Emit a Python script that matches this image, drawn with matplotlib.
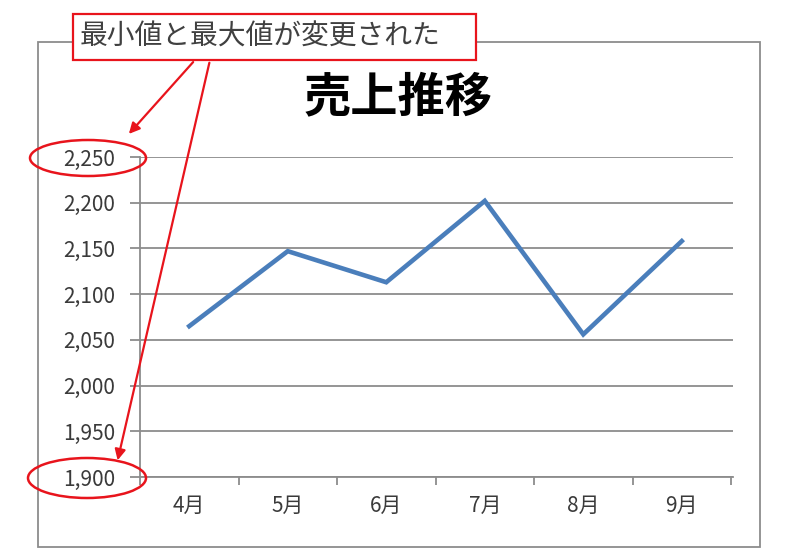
import matplotlib
matplotlib.use('Agg')
import matplotlib.pyplot as plt
from matplotlib.patches import Ellipse, FancyArrowPatch, Rectangle
from matplotlib.ticker import FuncFormatter, FixedLocator

plt.rcParams['font.family'] = ['Noto Sans CJK JP', 'DejaVu Sans']

# Data
months = ['4月', '5月', '6月', '7月', '8月', '9月']
sales = [2065, 2147, 2113, 2202, 2056, 2158]
y_ticks = [1900, 1950, 2000, 2050, 2100, 2150, 2200, 2250]
title = '売上推移'
note = '最小値と最大値が変更された'

W, H = 800, 560
GRAY = '#8c8c8c'
TEXT = '#3a3a3a'

fig = plt.figure(figsize=(W / 100, H / 100), dpi=100)

def fx(px):
    return px / W

def fy(py):
    return 1 - py / H

# Outer chart border
fig.add_artist(Rectangle((fx(38), fy(547)), fx(760) - fx(38), fy(42) - fy(547),
                         transform=fig.transFigure, fill=False,
                         edgecolor=GRAY, lw=1.3, zorder=0))

ax = fig.add_axes([fx(140), fy(477), fx(733) - fx(140), fy(157) - fy(477)])
x = list(range(len(months)))
ax.plot(x, sales, color='#4a7ebb', lw=3.3, solid_joinstyle='miter', zorder=3)

ax.set_ylim(y_ticks[0], y_ticks[-1])
ax.set_xlim(-0.5, len(months) - 0.5 + 0.02)
ax.set_yticks(y_ticks)
ax.yaxis.set_major_formatter(FuncFormatter(lambda v, p: f'{int(v):,}'))
ax.grid(axis='y', color=GRAY, lw=1.3)
ax.set_axisbelow(True)

ax.xaxis.set_major_locator(FixedLocator([i - 0.5 for i in range(len(months) + 1)]))
ax.xaxis.set_minor_locator(FixedLocator(x))
ax.set_xticklabels([])
ax.set_xticklabels(months, minor=True)
ax.tick_params(axis='x', which='major', length=6, color=GRAY, width=1.3)
ax.tick_params(axis='x', which='minor', length=0, pad=13, labelsize=15, labelcolor=TEXT)
ax.tick_params(axis='y', length=7, color=GRAY, width=1.3, labelsize=15,
               labelcolor=TEXT, pad=11)

for side in ['top', 'right']:
    ax.spines[side].set_visible(False)
for side in ['left', 'bottom']:
    ax.spines[side].set_color(GRAY)
    ax.spines[side].set_linewidth(1.3)

fig.text(fx(398), fy(97), title, ha='center', va='center',
         fontsize=34, fontweight='bold', color='black')

# Callout box
fig.add_artist(Rectangle((fx(73), fy(60)), fx(476) - fx(73), fy(14) - fy(60),
                         transform=fig.transFigure, facecolor='white',
                         edgecolor='#e8141c', lw=1.6, zorder=5))
fig.text(fx(80), fy(37), note, ha='left', va='center', fontsize=20,
         color='#404040', zorder=6)

# Arrows
for start, end in [((195, 60), (127, 136)), ((210, 60), (117, 463))]:
    fig.add_artist(FancyArrowPatch((fx(start[0]), fy(start[1])),
                                   (fx(end[0]), fy(end[1])),
                                   transform=fig.transFigure,
                                   arrowstyle='-|>', mutation_scale=16,
                                   color='#e8141c', lw=1.6, zorder=6))

# Ellipses around the changed labels
for cx, cy, w, h in [(88, 158, 116, 36), (87, 478, 118, 40)]:
    fig.add_artist(Ellipse((fx(cx), fy(cy)), w / W, h / H,
                           transform=fig.transFigure, fill=False,
                           edgecolor='#e8141c', lw=1.8, zorder=6))

fig.savefig('out.png', dpi=100)
